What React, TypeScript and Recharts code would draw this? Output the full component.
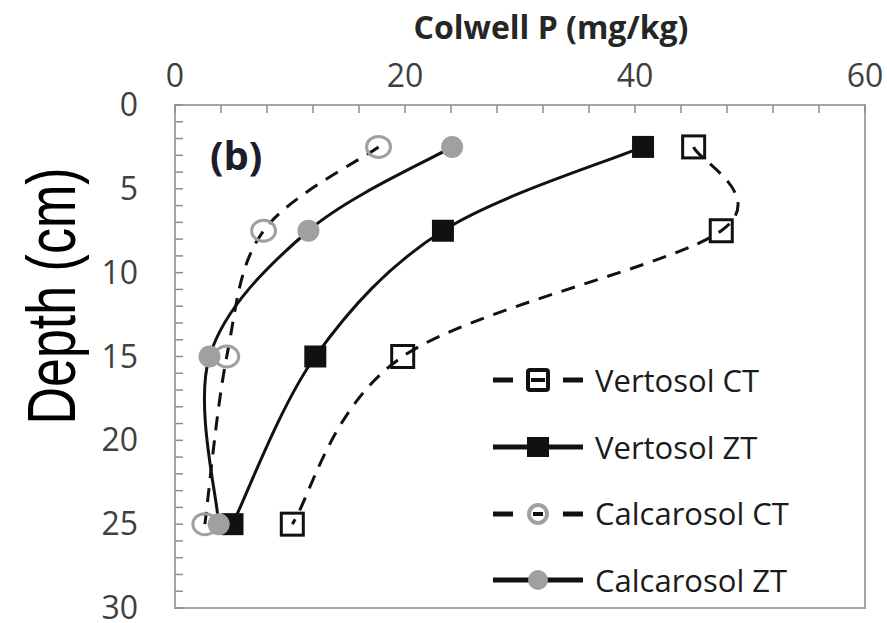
import { ScatterChart, Scatter, XAxis, YAxis, Legend, ReferenceArea, Customized } from 'recharts';

// depth of each sampling layer (cm) and Colwell P (mg/kg) per treatment
const depths = [2.5, 7.5, 15, 25];
const vertosolCT = [45.1, 47.5, 19.8, 10.2];
const vertosolZT = [40.7, 23.3, 12.2, 5.0];
const calcarosolCT = [17.7, 7.7, 4.5, 2.6];
const calcarosolZT = [24.1, 11.6, 3.0, 3.8];

const xTicks = [0, 4, 8, 12, 16, 20, 24, 28, 32, 36, 40, 44, 48, 52, 56, 60];
const xLabels = [0, 20, 40, 60];
const yTicks = [0, 1, 2, 3, 4, 5, 6, 7, 8, 9, 10, 11, 12, 13, 14, 15, 16, 17, 18, 19, 20, 21, 22, 23, 24, 25, 26, 27, 28, 29, 30];
const yLabels = [0, 5, 10, 15, 20, 25, 30];

const FONT = '"Open Sans", sans-serif';
const GREY = '#a0a0a0';

type MarkerKind = 'openSquare' | 'square' | 'openCircle' | 'circle';

const series: { name: string; values: number[]; marker: MarkerKind; dashed: boolean }[] = [
  { name: 'Vertosol CT', values: vertosolCT, marker: 'openSquare', dashed: true },
  { name: 'Vertosol ZT', values: vertosolZT, marker: 'square', dashed: false },
  { name: 'Calcarosol CT', values: calcarosolCT, marker: 'openCircle', dashed: true },
  { name: 'Calcarosol ZT', values: calcarosolZT, marker: 'circle', dashed: false },
];

// Excel-style smoothed line (Catmull-Rom through the points)
const excelSmooth: any = (ctx: any) => {
  let pts: number[][] = [];
  return {
    areaStart() {},
    areaEnd() {},
    lineStart() {
      pts = [];
    },
    point(x: number, y: number) {
      pts.push([+x, +y]);
    },
    lineEnd() {
      const n = pts.length;
      if (!n) return;
      ctx.moveTo(pts[0][0], pts[0][1]);
      for (let i = 0; i < n - 1; i++) {
        const p0 = pts[Math.max(i - 1, 0)];
        const p1 = pts[i];
        const p2 = pts[i + 1];
        const p3 = pts[Math.min(i + 2, n - 1)];
        ctx.bezierCurveTo(
          p1[0] + (p2[0] - p0[0]) / 6,
          p1[1] + (p2[1] - p0[1]) / 6,
          p2[0] - (p3[0] - p1[0]) / 6,
          p2[1] - (p3[1] - p1[1]) / 6,
          p2[0],
          p2[1],
        );
      }
    },
  };
};

function Marker({ kind, cx, cy }: { kind: MarkerKind; cx: number; cy: number }) {
  if (kind === 'openSquare')
    return <rect x={cx - 11} y={cy - 11} width={22} height={22} fill="none" stroke="#111" strokeWidth={3} />;
  if (kind === 'square') return <rect x={cx - 11} y={cy - 11} width={22} height={22} fill="#111" />;
  if (kind === 'openCircle')
    return <ellipse cx={cx} cy={cy} rx={12} ry={10.5} fill="none" stroke={GREY} strokeWidth={3} />;
  return <circle cx={cx} cy={cy} r={11} fill={GREY} />;
}

function TopTick({ x, y, payload }: any) {
  if (!xLabels.includes(payload.value)) return <g />;
  return (
    <text x={x} y={y} textAnchor="middle" fontFamily={FONT} fontSize={32} fill="#404040">
      {payload.value}
    </text>
  );
}

function LeftTick({ x, y, payload }: any) {
  if (!yLabels.includes(payload.value)) return <g />;
  return (
    <text x={x} y={y} dy={11} textAnchor="end" fontFamily={FONT} fontSize={32} fill="#404040">
      {payload.value}
    </text>
  );
}

function LegendSymbol({ marker, dashed }: { marker: MarkerKind; dashed: boolean }) {
  return (
    <svg width={90} height={30}>
      <line x1={0} y1={15} x2={90} y2={15} stroke="#111" strokeWidth={5} strokeDasharray={dashed ? '20 50 20' : undefined} />
      {marker === 'openSquare' && (
        <>
          <rect x={35} y={5} width={20} height={20} rx={2} fill="#fff" stroke="#111" strokeWidth={4} />
          <line x1={38} y1={15} x2={52} y2={15} stroke="#111" strokeWidth={4} />
        </>
      )}
      {marker === 'square' && <rect x={34} y={5} width={22} height={20} fill="#111" />}
      {marker === 'openCircle' && (
        <>
          <circle cx={45} cy={15} r={9} fill="#fff" stroke={GREY} strokeWidth={4} />
          <line x1={40} y1={15} x2={50} y2={15} stroke="#111" strokeWidth={4} />
        </>
      )}
      {marker === 'circle' && <circle cx={45} cy={15} r={10} fill={GREY} />}
    </svg>
  );
}

function renderLegend() {
  return (
    <div style={{ fontFamily: FONT, fontSize: 31, color: '#1b1b1b' }}>
      {series.map((s) => (
        <div key={s.name} style={{ display: 'flex', alignItems: 'center', height: 66.7 }}>
          <LegendSymbol marker={s.marker} dashed={s.dashed} />
          <span style={{ marginLeft: 12, lineHeight: 1, whiteSpace: 'nowrap' }}>{s.name}</span>
        </div>
      ))}
    </div>
  );
}

function Annotations() {
  return (
    <g>
      <text x={543} y={39} textAnchor="middle" fontFamily={FONT} fontWeight="bold" fontSize={32} fill="#262626">
        Colwell P (mg/kg)
      </text>
      <text x={202} y={170} fontFamily={FONT} fontWeight="bold" fontSize={40} fill="#1c1c2c">
        (b)
      </text>
      <text
        transform="translate(67 296) rotate(-90) scale(1 1.3)"
        textAnchor="middle"
        fontFamily='"Liberation Sans", Arial, sans-serif'
        fontSize={52}
        fill="#000"
      >
        Depth (cm)
      </text>
    </g>
  );
}

export default function App() {
  return (
    <div style={{ paddingLeft: 8, width: 879, height: 623 }}>
      <style>{'body { margin: 0; overflow: hidden; }'}</style>
      <ScatterChart width={879} height={623} margin={{ top: 8, right: 22, bottom: 15, left: 0 }}>
        <XAxis
          type="number"
          dataKey="x"
          orientation="top"
          domain={[0, 60]}
          ticks={xTicks}
          interval={0}
          height={97}
          tickSize={-8}
          tickMargin={26}
          axisLine={false}
          tickLine={{ stroke: '#8c8c8c', strokeWidth: 1.5 }}
          tick={<TopTick />}
        />
        <YAxis
          type="number"
          dataKey="y"
          reversed
          domain={[0, 30]}
          ticks={yTicks}
          interval={0}
          width={167}
          tickSize={-8}
          tickMargin={45}
          axisLine={false}
          tickLine={{ stroke: '#8c8c8c', strokeWidth: 1.5 }}
          tick={<LeftTick />}
        />
        <ReferenceArea x1={0} x2={60} y1={0} y2={30} fill="none" stroke="#a6a6a6" strokeWidth={2} ifOverflow="visible" />
        {series.map((s) => (
          <Scatter
            key={s.name}
            name={s.name}
            data={depths.map((d, i) => ({ x: s.values[i], y: d }))}
            line={{ stroke: '#111', strokeWidth: 3, strokeDasharray: s.dashed ? '14 10' : undefined }}
            lineJointType={excelSmooth}
            shape={(p: any) => <Marker kind={s.marker} cx={p.cx} cy={p.cy} />}
            isAnimationActive={false}
          />
        ))}
        <Legend
          content={renderLegend}
          layout="vertical"
          align="center"
          verticalAlign="middle"
          wrapperStyle={{ left: 485, top: 347, width: 320 }}
        />
        <Customized component={<Annotations />} />
      </ScatterChart>
    </div>
  );
}
